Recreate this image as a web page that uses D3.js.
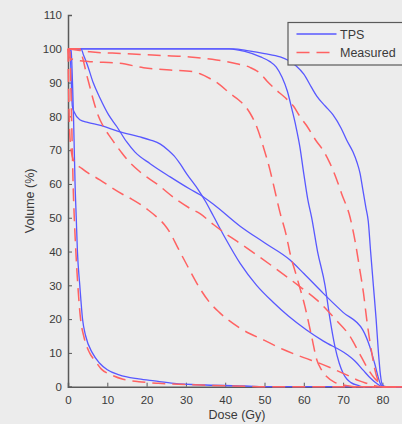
<!DOCTYPE html>
<html>
<head>
<meta charset="utf-8">
<script src="https://cdn.jsdelivr.net/npm/d3@7"></script>
<style>
    body { margin: 0; background: #ececec; }
    svg { display: block; }
</style>
</head>
<body>
<svg id="chart-display" width="402" height="424"></svg>
<script>
// DVH curves, [dose (Gy), volume (%)]
const tps1 = [[0,100],[0.5,99.5],[0.7,95],[0.9,88],[1.1,83],[1.6,81.2],[3,79],[5,78.2],[8,77.4],[13,75.5],[18,74],[21,73],[23.5,71.8],[25.5,70],[27,68.3],[28.5,66],[30.2,63],[33.2,58.2],[35,54.8],[37,50.5],[40,44],[43.8,36.5],[48,30],[52.2,25],[56,21],[60.7,16.8],[65,13.5],[70.9,9.6],[73,7.6],[75.1,4.9],[77,2.5],[78.5,1],[80,0],[85,0]];
const tps2 = [[0,100],[0.8,99.5],[1,95],[1.2,88],[1.4,80],[1.6,70],[1.8,60],[2.1,50],[2.4,40],[3,30],[3.7,20],[4.5,15],[6.2,10],[8,7],[10,5],[13,3.5],[18,2.3],[22,1.7],[27,1],[35,0.5],[45,0.2],[52,0],[85,0]];
const tps3 = [[0,100],[3.3,100],[4,98],[5,95],[6.4,90],[8.1,85.5],[10.3,80.5],[12.4,77],[14.9,72.5],[17,69.5],[20.9,66],[26,62.1],[31,58.5],[33.6,56.8],[37,54],[43.8,47.5],[50,42.6],[56.5,37.5],[60,33.5],[64.9,27.7],[70,22],[75,16.8],[76.8,11.8],[78,7],[79.4,1.1],[80,0],[85,0]];
const tps4 = [[0,100],[41,100],[45,99.2],[49,97.6],[51.4,96.2],[53,94.6],[54.5,91.5],[55.8,87.5],[57,82],[58,77],[59,71],[60,63],[61,55.5],[62,50],[63.5,40],[65.4,30],[66.6,20.5],[67.9,12],[69,7],[70,4],[71,2.2],[72,1.2],[74,0.3],[75,0],[85,0]];
const tps5 = [[0,100],[42,100],[46,99.4],[50,98.6],[54,97.6],[56,96.6],[58,95],[60,92.5],[62,88.5],[63.3,86],[65.5,83],[67.4,80.5],[69.5,76.5],[70.9,73],[72.5,69.5],[73.5,66.5],[74.3,63.2],[75,58.5],[75.8,53],[76.4,49],[77,40],[77.7,30],[78.4,20],[79,10],[79.5,3.5],[80,0.5],[81,0],[85,0]];

const meas1 = [[0,100],[0.5,99],[0.7,90],[0.9,80],[1.1,70],[1.3,60],[1.6,50],[2,40],[2.5,30],[3.2,20],[4,15],[5.5,10],[7,7.5],[8.5,5.2],[11,3.5],[14,2.2],[18,1.5],[23,1],[34,0.5],[45,0.1],[50,0],[85,0]];
const meas2 = [[0,100],[0.1,92],[0.2,85],[0.4,76],[0.8,70],[1.5,66.8],[3.5,64.6],[8.1,61.2],[9.8,59.9],[14.1,56.8],[16.2,55.5],[20.4,52.3],[22.6,50.2],[24.5,48],[26,45.5],[28,41],[30.5,35.5],[33.6,29],[36,25],[38.5,22],[43.8,17.3],[50,13.7],[54.8,11],[60,8.6],[64.1,6.9],[68,5],[71.8,3],[74,1.8],[76,1],[78,0.3],[80,0],[85,0]];
const meas3 = [[0,100],[3,100],[3.8,97],[4.6,93],[5.5,89],[6.4,85],[7.6,80.5],[9,77],[11,73.5],[13.5,69.5],[15,67.3],[18.3,63.6],[22.6,60],[27.7,55.3],[31,52.8],[33.6,51.2],[37,48],[41.2,44.4],[43.8,42.4],[48,39],[52.2,35.5],[59,29.6],[63.3,25.7],[68,20],[71.8,14.8],[74,10.2],[76,5.9],[78,2.5],[79.4,1],[80.5,0],[85,0]];
const meas4 = [[0,100],[3,99.5],[5.6,99.1],[14,98.6],[22.6,98.1],[31,97.6],[37.8,96.7],[42.9,95.6],[46.3,94.5],[48.9,92.7],[50.6,90.5],[53,87.8],[55,85.8],[57.4,83],[59,80],[60.7,77.3],[63,73],[65,69.8],[66.7,66],[68.4,61.2],[69.6,57.2],[71.8,50],[73,43.4],[74.2,35],[75.2,27.6],[76,20],[76.6,15],[77.3,10],[78,5.5],[79,1.5],[80,0],[85,0]];
const meas5 = [[0,100],[0.3,97.5],[2,96.6],[5.6,96.2],[13.2,95.7],[19.2,94.4],[26,93.7],[31.9,93.2],[33.6,92.6],[36.1,91.2],[38.5,89.5],[41.2,86.8],[43.8,84.5],[46.3,81],[48,77],[49.7,71],[51.4,64.1],[52.2,60.2],[54,51.3],[55.5,45],[56.5,39.5],[58.2,32.5],[60.3,23.7],[62,14.8],[63.3,8],[64.5,5],[65.8,3],[68,1.2],[71,0.3],[73,0],[85,0]];

const xTicks = [0, 10, 20, 30, 40, 50, 60, 70, 80];
const yTicks = [0, 10, 20, 30, 40, 50, 60, 70, 80, 90, 100, 110];
const legendNames = ["TPS", "Measured"];

const viewDvhChart = {
    init: function() {
        this.svg = d3.select("#chart-display");
        this.x = d3.scaleLinear().domain([0, 90]).range([68, 421.7]);
        this.y = d3.scaleLinear().domain([0, 110]).range([386.7, 15]);
        this.blue = "#5858ff";
        this.red = "#ff6262";
        this.dash = "13,7";
    },
    render: function() {
        const svg = this.svg, x = this.x, y = this.y;
        const font = "'Liberation Sans', Arial, sans-serif";

        svg.append("rect").attr("width", 402).attr("height", 424).attr("fill", "#ececec");

        // axes, MATLAB style: ticks pointing inwards
        const xAxis = svg.append("g")
            .attr("transform", `translate(0,${y(0)})`)
            .call(d3.axisBottom(x).tickValues(xTicks).tickSize(-4).tickPadding(9));
        const yAxis = svg.append("g")
            .attr("transform", `translate(${x(0)},0)`)
            .call(d3.axisLeft(y).tickValues(yTicks).tickSize(-4).tickPadding(6));

        [xAxis, yAxis].forEach(a => {
            a.select(".domain").attr("stroke", "#5a5a5a").attr("stroke-width", 1.5);
            a.selectAll(".tick line").attr("stroke", "#5a5a5a");
            a.selectAll(".tick text")
                .attr("fill", "#3a3a3a")
                .style("font-family", font)
                .style("font-size", "11.5px");
        });

        svg.append("text")
            .attr("x", 237).attr("y", 419)
            .attr("text-anchor", "middle")
            .attr("fill", "#3a3a3a")
            .style("font-family", font).style("font-size", "12.5px")
            .text("Dose (Gy)");

        svg.append("text")
            .attr("transform", `translate(34,${y(55)}) rotate(-90)`)
            .attr("text-anchor", "middle")
            .attr("fill", "#3a3a3a")
            .style("font-family", font).style("font-size", "12.5px")
            .text("Volume (%)");

        const line = d3.line()
            .x(d => x(d[0]))
            .y(d => y(d[1]))
            .curve(d3.curveMonotoneX);

        const curves = [
            {data: tps1, color: this.blue, dash: null},
            {data: tps2, color: this.blue, dash: null},
            {data: tps3, color: this.blue, dash: null},
            {data: tps4, color: this.blue, dash: null},
            {data: tps5, color: this.blue, dash: null},
            {data: meas1, color: this.red, dash: this.dash},
            {data: meas2, color: this.red, dash: this.dash},
            {data: meas3, color: this.red, dash: this.dash},
            {data: meas4, color: this.red, dash: this.dash},
            {data: meas5, color: this.red, dash: this.dash}
        ];

        svg.append("g")
            .selectAll("path")
            .data(curves)
            .join("path")
            .attr("d", d => line(d.data))
            .attr("fill", "none")
            .attr("stroke", d => d.color)
            .attr("stroke-width", d => d.dash ? 1.5 : 1.3)
            .attr("stroke-dasharray", d => d.dash);

        // legend (box runs off the right edge)
        const legend = svg.append("g").attr("transform", "translate(288,22.5)");
        legend.append("rect")
            .attr("width", 140).attr("height", 42.5)
            .attr("fill", "#eeeeee")
            .attr("stroke", "#5a5a5a").attr("stroke-width", 1.2);

        legend.selectAll("g.item")
            .data(legendNames)
            .join("g")
            .attr("class", "item")
            .attr("transform", (d, i) => `translate(0,${11.5 + i * 18.5})`)
            .each(function(d, i) {
                const g = d3.select(this);
                g.append("line")
                    .attr("x1", 8.5).attr("x2", 48.5)
                    .attr("stroke", i ? viewDvhChart.red : viewDvhChart.blue)
                    .attr("stroke-width", i ? 1.5 : 1.3)
                    .attr("stroke-dasharray", i ? viewDvhChart.dash : null);
                g.append("text")
                    .attr("x", 52).attr("y", 4.5)
                    .attr("fill", "#3a3a3a")
                    .style("font-family", font).style("font-size", "12.5px")
                    .text(d);
            });
    }
};

viewDvhChart.init();
viewDvhChart.render();
</script>
</body>
</html>
